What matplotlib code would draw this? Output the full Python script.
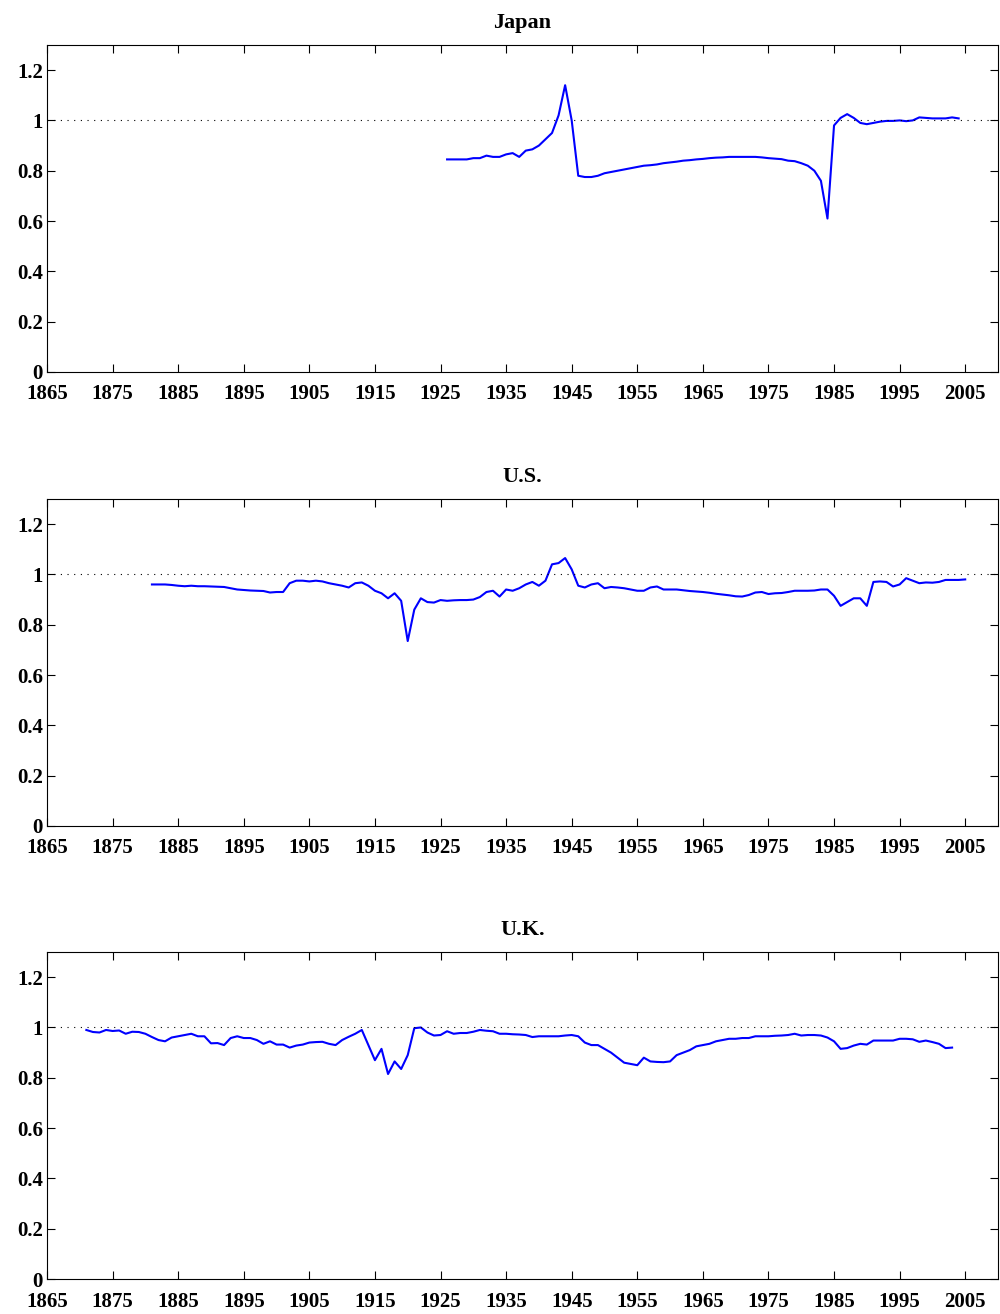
import matplotlib
matplotlib.use('Agg')
import matplotlib.pyplot as plt
import numpy as np

plt.rcParams['font.family'] = ['Liberation Serif', 'DejaVu Serif']
plt.rcParams['font.weight'] = 'bold'

japan_years = list(range(1926, 2005))
japan = [0.845, 0.845, 0.845, 0.845, 0.85, 0.85, 0.86, 0.855, 0.855, 0.865,
         0.87, 0.855, 0.88, 0.885, 0.90, 0.925, 0.95, 1.02, 1.14, 1.0,
         0.78, 0.775, 0.775, 0.78, 0.79, 0.795, 0.80, 0.805, 0.81, 0.815,
         0.82, 0.822, 0.825, 0.83, 0.833, 0.836, 0.84, 0.842, 0.845, 0.847,
         0.85, 0.852, 0.853, 0.855, 0.855, 0.855, 0.855, 0.855, 0.853, 0.85,
         0.848, 0.846, 0.84, 0.838, 0.83, 0.82, 0.80, 0.76, 0.61, 0.98,
         1.01, 1.025, 1.01, 0.99, 0.985, 0.99, 0.995, 0.998, 0.998, 1.0,
         0.997, 1.0, 1.012, 1.01, 1.008, 1.008, 1.008, 1.012, 1.008]

us_years = list(range(1881, 2006))
us = [0.96, 0.96, 0.96, 0.958, 0.955, 0.953, 0.955, 0.953, 0.953, 0.952,
      0.951, 0.95, 0.945, 0.94, 0.938, 0.936, 0.935, 0.934, 0.928, 0.93,
      0.93, 0.965, 0.975, 0.975, 0.972, 0.975, 0.972, 0.965, 0.96, 0.955,
      0.948, 0.965, 0.968, 0.955, 0.935, 0.925, 0.905, 0.925, 0.895, 0.735,
      0.86, 0.905, 0.89, 0.888, 0.898, 0.895, 0.897, 0.898, 0.898, 0.9,
      0.91, 0.93, 0.935, 0.912, 0.94, 0.935, 0.945, 0.96, 0.97, 0.955,
      0.975, 1.04, 1.045, 1.065, 1.02, 0.955, 0.948, 0.96, 0.965, 0.945,
      0.95, 0.948, 0.945, 0.94, 0.935, 0.935, 0.948, 0.952, 0.94, 0.94,
      0.94, 0.937, 0.934, 0.932, 0.93, 0.927, 0.923, 0.92, 0.917, 0.913,
      0.912, 0.918, 0.928, 0.93, 0.922, 0.925, 0.926, 0.93, 0.935, 0.935,
      0.935, 0.936, 0.94, 0.94, 0.915, 0.875, 0.89, 0.905, 0.905, 0.875,
      0.97, 0.972, 0.97, 0.952, 0.96, 0.985, 0.975, 0.965, 0.968, 0.967,
      0.97, 0.978, 0.978, 0.978, 0.98]

uk_years = list(range(1871, 2004))
uk = [0.99, 0.982, 0.98, 0.99, 0.986, 0.988, 0.975, 0.983, 0.982, 0.975,
      0.962, 0.95, 0.945, 0.96, 0.965, 0.97, 0.975, 0.965, 0.965, 0.937,
      0.938, 0.93, 0.958, 0.965, 0.958, 0.958, 0.95, 0.935, 0.945, 0.932,
      0.932, 0.92, 0.928, 0.932, 0.94, 0.942, 0.943, 0.935, 0.93, 0.95,
      0.963, 0.975, 0.99, 0.93, 0.87, 0.915, 0.815, 0.865, 0.835, 0.89,
      0.997, 1.0, 0.98, 0.968, 0.97, 0.985, 0.975, 0.978, 0.978, 0.983,
      0.99, 0.987, 0.985, 0.975, 0.975, 0.973, 0.972, 0.97, 0.962, 0.965,
      0.965, 0.965, 0.965, 0.968, 0.97, 0.965, 0.94, 0.93, 0.93, 0.915,
      0.9, 0.88, 0.86, 0.855, 0.85, 0.88, 0.865, 0.863, 0.862, 0.865,
      0.89, 0.9, 0.91, 0.925, 0.93, 0.935, 0.945, 0.95, 0.955, 0.955,
      0.958, 0.958, 0.965, 0.965, 0.965, 0.967, 0.968, 0.97, 0.975, 0.968,
      0.97, 0.97, 0.968, 0.96, 0.945, 0.915, 0.918, 0.928, 0.935, 0.932,
      0.948, 0.948, 0.948, 0.948, 0.955, 0.955, 0.953, 0.943, 0.948, 0.942,
      0.935, 0.918, 0.92]

panels = [('Japan', japan_years, japan, 0.7169),
          ('U.S.', us_years, us, 0.3714),
          ('U.K.', uk_years, uk, 0.0266)]
xticks = list(range(1865, 2006, 10))
yticks = [0, 0.2, 0.4, 0.6, 0.8, 1, 1.2]

fig = plt.figure(figsize=(10, 13.14), dpi=100)
for name, yrs, vals, bottom in panels:
    ax = fig.add_axes([0.047, bottom, 0.951, 0.2489])
    ax.plot(yrs, vals, color='blue', lw=1.5)
    ax.axhline(1, color='black', ls=(0, (1, 5)), lw=0.8)
    ax.set_xlim(1865, 2010)
    ax.set_ylim(0, 1.3)
    ax.set_xticks(xticks)
    ax.set_yticks(yticks)
    ax.set_yticklabels(['0', '0.2', '0.4', '0.6', '0.8', '1', '1.2'])
    ax.tick_params(direction='in', top=True, right=True, labelsize=15, length=6)
    ax.tick_params(axis='x', pad=9)
    ax.tick_params(axis='y', pad=3)
    for lab in ax.get_xticklabels() + ax.get_yticklabels():
        lab.set_fontweight('bold')
    ax.set_title(name, fontsize=16, fontweight='bold', pad=12)

fig.savefig('out.png', dpi=100)
